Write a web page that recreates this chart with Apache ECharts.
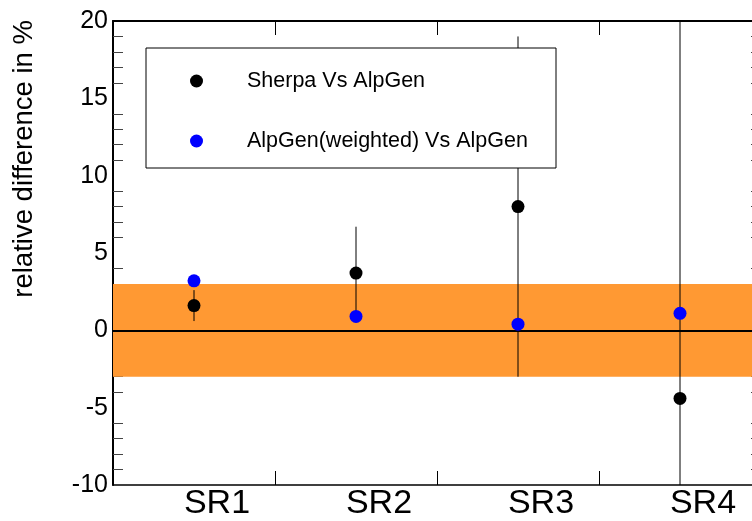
<!DOCTYPE html>
<html>
<head>
<meta charset="utf-8">
<script src="https://cdn.jsdelivr.net/npm/echarts@6/dist/echarts.min.js"></script>
<style>
    html, body { margin: 0; padding: 0; background: #fff; overflow: hidden; }
    /* the frame runs past the right edge of the picture, as in the original */
    #chart { width: 772px; height: 521px; }
</style>
</head>
<body>
<div id="chart"></div>
<script>
// signal regions
const categories = ['SR1', 'SR2', 'SR3', 'SR4'];
// Sherpa vs AlpGen (black) with its error bars
const sherpaValues = [1.6, 3.7, 8.0, -4.4];
const sherpaErrors = [1.0, 3.0, 11.0, 30.0];
// AlpGen(weighted) vs AlpGen (blue)
const weightedValues = [3.2, 0.9, 0.4, 1.1];
// orange uncertainty band
const bandLow = -3;
const bandHigh = 3;

const errorData = sherpaValues.map(function (v, i) {
    return [i, v - sherpaErrors[i], v + sherpaErrors[i]];
});

const font = 'Liberation Sans';
const chart = echarts.init(document.getElementById('chart'));

chart.setOption({
    animation: false,
    backgroundColor: '#fff',
    grid: { left: 113, top: 21, width: 648, height: 466 },
    legend: {
        orient: 'vertical',
        left: 190,
        top: 70,
        padding: 0,
        itemGap: 38,
        itemWidth: 13,
        itemHeight: 13,
        z: 100,
        textStyle: { fontFamily: font, fontSize: 21.5, color: '#000', lineHeight: 21, padding: [0, 0, 0, 39] },
        data: [
            { name: 'Sherpa Vs AlpGen', icon: 'circle' },
            { name: 'AlpGen(weighted) Vs AlpGen', icon: 'circle' }
        ]
    },
    graphic: [
        {
            type: 'rect',
            z: 50,
            shape: { x: 146, y: 48, width: 410, height: 120 },
            style: { fill: '#fff', stroke: '#000', lineWidth: 1 }
        },
        {
            type: 'text',
            z: 50,
            x: 24,
            y: 20,
            rotation: Math.PI / 2,
            style: {
                text: 'relative difference in %',
                fontFamily: font,
                fontSize: 27.5,
                fill: '#000',
                align: 'right',
                verticalAlign: 'middle'
            }
        }
    ],
    xAxis: [
        {
            type: 'category',
            data: categories,
            position: 'bottom',
            boundaryGap: true,
            axisLine: { onZero: false, lineStyle: { color: '#000', width: 1.5 } },
            axisTick: { show: true, interval: 0, alignWithLabel: false, inside: true, length: 14, lineStyle: { color: '#000', width: 1 } },
            axisLabel: { fontFamily: font, fontSize: 34, color: '#000', margin: 2, padding: [0, 0, 0, 46] },
            splitLine: { show: false }
        },
        {
            type: 'category',
            data: categories,
            position: 'top',
            boundaryGap: true,
            axisLine: { onZero: false, lineStyle: { color: '#000', width: 2 } },
            axisTick: { show: true, interval: 0, alignWithLabel: false, inside: true, length: 14, lineStyle: { color: '#000', width: 1 } },
            axisLabel: { show: false },
            splitLine: { show: false }
        }
    ],
    yAxis: [
        {
            type: 'value',
            position: 'left',
            min: -10,
            max: 20,
            interval: 5,
            axisLine: { show: true, onZero: false, lineStyle: { color: '#000', width: 2 } },
            axisTick: { inside: true, length: 19, lineStyle: { color: '#000' } },
            minorTick: { show: true, splitNumber: 5, length: 10, lineStyle: { color: '#444' } },
            axisLabel: { fontFamily: font, fontSize: 25, color: '#000', margin: 5 },
            splitLine: { show: false }
        },
        {
            type: 'value',
            position: 'right',
            min: -10,
            max: 20,
            interval: 5,
            axisLine: { show: true, onZero: false, lineStyle: { color: '#000', width: 2 } },
            axisTick: { inside: true, length: 19, lineStyle: { color: '#000' } },
            minorTick: { show: true, splitNumber: 5, length: 10, lineStyle: { color: '#444' } },
            axisLabel: { show: false },
            splitLine: { show: false }
        }
    ],
    series: [
        {
            // band and zero line
            type: 'line',
            data: [],
            z: 1,
            silent: true,
            markArea: {
                silent: true,
                itemStyle: { color: '#ff9933', opacity: 1 },
                data: [[{ yAxis: bandLow }, { yAxis: bandHigh }]]
            },
            markLine: {
                silent: true,
                symbol: 'none',
                label: { show: false },
                lineStyle: { color: '#000', width: 2, type: 'solid' },
                data: [{ yAxis: 0 }]
            }
        },
        {
            // error bars
            type: 'custom',
            z: 3,
            silent: true,
            data: errorData,
            encode: { x: 0, y: [1, 2] },
            renderItem: function (params, api) {
                const cs = params.coordSys;
                const x = api.coord([api.value(0), 0])[0];
                let lo = api.coord([api.value(0), api.value(1)])[1];
                let hi = api.coord([api.value(0), api.value(2)])[1];
                lo = Math.min(Math.max(lo, cs.y), cs.y + cs.height);
                hi = Math.min(Math.max(hi, cs.y), cs.y + cs.height);
                return {
                    type: 'line',
                    shape: { x1: x, y1: hi, x2: x, y2: lo },
                    style: { stroke: '#000', lineWidth: 1 }
                };
            }
        },
        {
            name: 'Sherpa Vs AlpGen',
            type: 'scatter',
            z: 4,
            symbolSize: 13,
            itemStyle: { color: '#000', opacity: 1 },
            data: sherpaValues
        },
        {
            name: 'AlpGen(weighted) Vs AlpGen',
            type: 'scatter',
            z: 5,
            symbolSize: 13,
            itemStyle: { color: '#0000ff', opacity: 1 },
            data: weightedValues
        }
    ]
});
</script>
</body>
</html>
